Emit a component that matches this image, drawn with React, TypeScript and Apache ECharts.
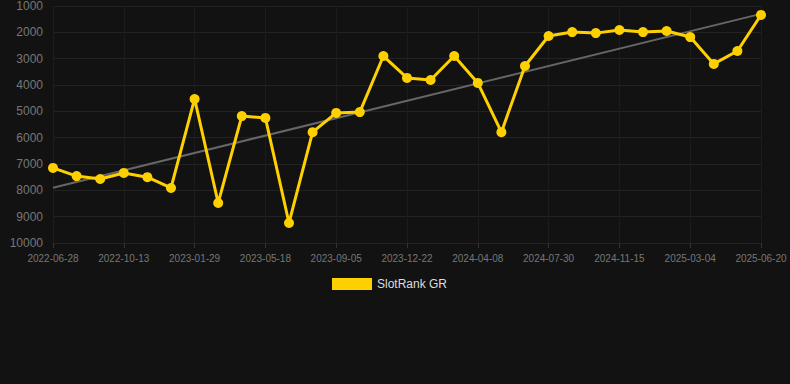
import React, { useEffect, useRef } from "react";
import * as echarts from "echarts";

const dates = [
  "2022-06-28", "2022-08-03", "2022-09-07", "2022-10-13", "2022-11-18", "2022-12-24",
  "2023-01-29", "2023-03-07", "2023-04-12", "2023-05-18", "2023-06-24", "2023-07-30",
  "2023-09-05", "2023-10-11", "2023-11-16", "2023-12-22", "2024-01-27", "2024-03-03",
  "2024-04-08", "2024-05-15", "2024-06-22", "2024-07-30", "2024-09-05", "2024-10-10",
  "2024-11-15", "2024-12-21", "2025-01-27", "2025-03-04", "2025-04-09", "2025-05-15",
  "2025-06-20",
];

const rankValues = [
  7150, 7460, 7570, 7340, 7500, 7910,
  4530, 8480, 5180, 5250, 9240, 5790,
  5060, 5030, 2900, 3730, 3810, 2900,
  3920, 5790, 3280, 2140, 1990, 2030,
  1910, 1990, 1950, 2180, 3200, 2710,
  1340,
];

const trendStart = 7900;
const trendEnd = 1300;

const seriesName = "SlotRank GR";

export default function App() {
  const ref = useRef<HTMLDivElement>(null);

  useEffect(() => {
    document.body.style.margin = "0";
    if (!ref.current) return;
    const chart = echarts.init(ref.current, null, { renderer: "svg" });
    const trendData = dates.map((_, i) =>
      i === 0 ? trendStart : i === dates.length - 1 ? trendEnd : null
    );
    chart.setOption({
      animation: false,
      backgroundColor: "#121212",
      grid: { left: 53, right: 29, top: 6, bottom: 141, containLabel: false },
      legend: {
        left: 327,
        top: 273,
        itemWidth: 40,
        itemHeight: 12,
        itemGap: 10,
        data: [{ name: seriesName, icon: "rect" }],
        textStyle: { color: "#dddddd", fontSize: 12, fontFamily: "Arial, Liberation Sans, sans-serif" },
      },
      xAxis: {
        type: "category",
        data: dates,
        boundaryGap: false,
        axisLine: { show: false },
        axisTick: { show: true, interval: 2, length: 5, lineStyle: { color: "#333" } },
        axisLabel: {
          interval: 2,
          color: "#777777",
          fontSize: 10,
          margin: 10,
          fontFamily: "Arial, Liberation Sans, sans-serif",
        },
        splitLine: { show: true, interval: 2, lineStyle: { color: "#1c1c1c", width: 1 } },
      },
      yAxis: {
        type: "value",
        inverse: true,
        min: 1000,
        max: 10000,
        interval: 1000,
        axisLine: { show: false },
        axisTick: { show: false },
        axisLabel: {
          color: "#777777",
          fontSize: 12,
          margin: 10,
          formatter: (v: number) => String(v),
          fontFamily: "Arial, Liberation Sans, sans-serif",
        },
        splitLine: { lineStyle: { color: "#222222", width: 1 } },
      },
      series: [
        {
          name: "trend",
          type: "line",
          data: trendData,
          connectNulls: true,
          symbol: "none",
          lineStyle: { color: "#666666", width: 2 },
          z: 1,
          silent: true,
        },
        {
          name: seriesName,
          type: "line",
          data: rankValues,
          symbol: "circle",
          symbolSize: 10,
          itemStyle: { color: "#FFD000" },
          lineStyle: { color: "#FFD000", width: 3 },
          z: 2,
        },
      ],
    });
    return () => chart.dispose();
  }, []);

  return <div ref={ref} style={{ width: 790, height: 384 }} />;
}
